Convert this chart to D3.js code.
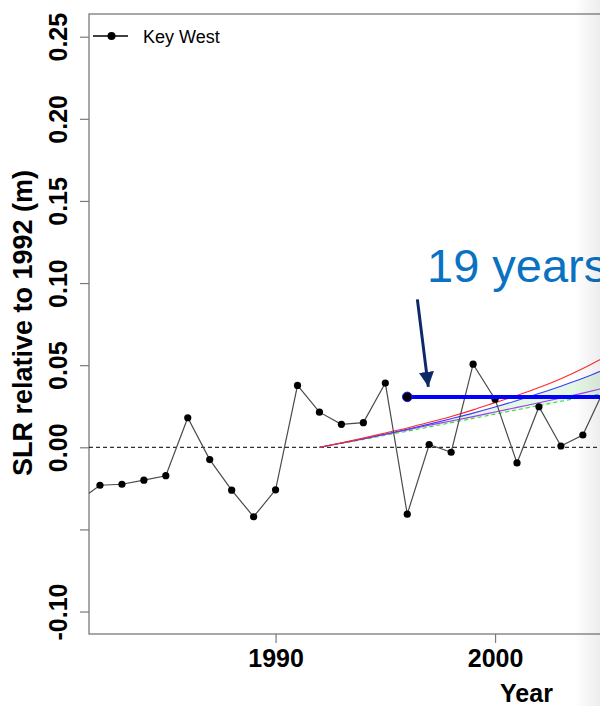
<!DOCTYPE html>
<html>
<head>
<meta charset="utf-8">
<script src="https://cdn.jsdelivr.net/npm/d3@7"></script>
<style>
  body { margin: 0; background: #fff; }
  svg { display: block; font-family: "Liberation Sans", Arial, sans-serif; }
</style>
</head>
<body>
<script>
// Key West annual mean sea level, relative to 1992 (m)
var years = [1981, 1982, 1983, 1984, 1985, 1986, 1987, 1988, 1989, 1990,
             1991, 1992, 1993, 1994, 1995, 1996, 1997, 1998, 1999, 2000,
             2001, 2002, 2003, 2004, 2005];
var keyWest = [-0.033, -0.0231, -0.0225, -0.0200, -0.0173, 0.0180, -0.0075, -0.0261, -0.0423, -0.0259,
               0.0377, 0.0214, 0.0140, 0.0150, 0.0391, -0.0407, 0.0017, -0.0030, 0.0506, 0.0293,
               -0.0095, 0.0247, 0.0008, 0.0075, 0.036];

// projection curves starting in 1992
var curveYears = [1992, 1993, 1994, 1995, 1996, 1997, 1998, 1999, 2000, 2001, 2002, 2003, 2004, 2005];
var redCurve    = [0, 0.0027, 0.0056, 0.0087, 0.0118, 0.0152, 0.0188, 0.0228, 0.0272, 0.0316, 0.0364, 0.0418, 0.0480, 0.0550];
var blueCurve   = [0, 0.0026, 0.0053, 0.0081, 0.0110, 0.0141, 0.0174, 0.0208, 0.0245, 0.0285, 0.0327, 0.0372, 0.0420, 0.0475];
var purpleCurve = [0, 0.0025, 0.0051, 0.0078, 0.0106, 0.0134, 0.0160, 0.0187, 0.0215, 0.0243, 0.0271, 0.0300, 0.0330, 0.0362];
var greenCurve  = [0, 0.0024, 0.0048, 0.0073, 0.0098, 0.0124, 0.0150, 0.0176, 0.0202, 0.0228, 0.0254, 0.0280, 0.0306, 0.0330];

// horizontal "19 years" marker
var markerYears = [1996, 2015];
var markerLevel = 0.0307;

var yTicks = [-0.10, -0.05, 0.00, 0.05, 0.10, 0.15, 0.20, 0.25];
var yTickLabels = ["-0.10", "", "0.00", "0.05", "0.10", "0.15", "0.20", "0.25"];
var xTicks = [1990, 2000];

var svgWidth = 600;
var svgHeight = 706;

var plot = { left: 89, top: 14, bottom: 634, right: 760 };

var svg = d3.select("body")
  .append("svg")
  .attr("width", svgWidth)
  .attr("height", svgHeight);

var defs = svg.append("defs");

var xScale = d3.scaleLinear()
  .domain([1981.5, 2005])
  .range([plot.left, 604.8]);

var yScale = d3.scaleLinear()
  .domain([0, 0.25])
  .range([447.3, 36.7]);

defs.append("clipPath")
  .attr("id", "plotClip")
  .append("rect")
  .attr("x", plot.left)
  .attr("y", plot.top)
  .attr("width", plot.right - plot.left)
  .attr("height", plot.bottom - plot.top);

// frame
svg.append("rect")
  .attr("x", plot.left)
  .attr("y", plot.top)
  .attr("width", plot.right - plot.left)
  .attr("height", plot.bottom - plot.top)
  .attr("fill", "none")
  .attr("stroke", "#7a7a7a")
  .attr("stroke-width", 1.3);

// y axis
var yAxis = d3.axisLeft(yScale)
  .tickValues(yTicks)
  .tickSize(9)
  .tickFormat((d, i) => yTickLabels[i]);

var yAxisG = svg.append("g")
  .attr("transform", `translate(${plot.left}, 0)`)
  .call(yAxis);
yAxisG.select(".domain").remove();
yAxisG.selectAll(".tick line").attr("stroke", "#7a7a7a").attr("stroke-width", 1.2);
yAxisG.selectAll(".tick text")
  .attr("transform", "rotate(-90)")
  .attr("x", 0)
  .attr("y", -22.5)
  .attr("dy", 0)
  .attr("text-anchor", "middle")
  .attr("font-size", 25)
  .attr("font-weight", "bold")
  .attr("fill", "#000");

// x axis
var xAxis = d3.axisBottom(xScale)
  .tickValues(xTicks)
  .tickSize(9)
  .tickFormat(d3.format("d"));

var xAxisG = svg.append("g")
  .attr("transform", `translate(0, ${plot.bottom})`)
  .call(xAxis);
xAxisG.select(".domain").remove();
xAxisG.selectAll(".tick line").attr("stroke", "#7a7a7a").attr("stroke-width", 1.2);
xAxisG.selectAll(".tick text")
  .attr("y", 32.7)
  .attr("dy", 0)
  .attr("font-size", 25)
  .attr("font-weight", "bold")
  .attr("fill", "#000");

// axis titles
svg.append("text")
  .attr("transform", "translate(32, 323) rotate(-90)")
  .attr("text-anchor", "middle")
  .attr("font-size", 27)
  .attr("font-weight", "bold")
  .text("SLR relative to 1992 (m)");

svg.append("text")
  .attr("x", 526.5)
  .attr("y", 702)
  .attr("text-anchor", "middle")
  .attr("font-size", 25)
  .attr("font-weight", "bold")
  .text("Year");

var chartGroup = svg.append("g").attr("clip-path", "url(#plotClip)");

// zero reference
chartGroup.append("line")
  .attr("x1", plot.left)
  .attr("x2", plot.right)
  .attr("y1", yScale(0))
  .attr("y2", yScale(0))
  .attr("stroke", "#000")
  .attr("stroke-width", 1)
  .attr("stroke-dasharray", "4,3");

// shaded band between blue and green projections
var band = d3.area()
  .x((d, i) => xScale(curveYears[i]))
  .y0((d, i) => yScale(greenCurve[i]))
  .y1(d => yScale(d))
  .curve(d3.curveMonotoneX);

chartGroup.append("path")
  .datum(blueCurve)
  .attr("d", band)
  .attr("fill", "#e4f6e4");

var curveLine = d3.line()
  .x((d, i) => xScale(curveYears[i]))
  .y(d => yScale(d))
  .curve(d3.curveMonotoneX);

var curves = [
  { values: greenCurve, color: "#33dd33", dash: "4,3" },
  { values: purpleCurve, color: "#a03cf0", dash: null },
  { values: blueCurve, color: "#3a3aff", dash: null },
  { values: redCurve, color: "#ff2a2a", dash: null }
];

curves.forEach(function(c) {
  chartGroup.append("path")
    .datum(c.values)
    .attr("d", curveLine)
    .attr("fill", "none")
    .attr("stroke", c.color)
    .attr("stroke-width", 1.1)
    .attr("stroke-dasharray", c.dash);
});

// Key West series
var seriesLine = d3.line()
  .x((d, i) => xScale(years[i]))
  .y(d => yScale(d));

chartGroup.append("path")
  .datum(keyWest)
  .attr("d", seriesLine)
  .attr("fill", "none")
  .attr("stroke", "#4a4a4a")
  .attr("stroke-width", 1.2);

chartGroup.selectAll(".pt")
  .data(keyWest)
  .enter()
  .append("circle")
  .classed("pt", true)
  .attr("cx", (d, i) => xScale(years[i]))
  .attr("cy", d => yScale(d))
  .attr("r", 3.6)
  .attr("fill", "#000");

// 19 year marker
chartGroup.append("line")
  .attr("x1", xScale(markerYears[0]))
  .attr("x2", xScale(markerYears[1]))
  .attr("y1", yScale(markerLevel))
  .attr("y2", yScale(markerLevel))
  .attr("stroke", "#0000ff")
  .attr("stroke-width", 4);

chartGroup.append("circle")
  .attr("cx", xScale(markerYears[0]))
  .attr("cy", yScale(markerLevel))
  .attr("r", 4.8)
  .attr("fill", "#000")
  .attr("stroke", "#1a1aff")
  .attr("stroke-width", 1);

// arrow + label
defs.append("marker")
  .attr("id", "arrowHead")
  .attr("viewBox", "0 0 10 10")
  .attr("refX", 10)
  .attr("refY", 5)
  .attr("markerWidth", 5)
  .attr("markerHeight", 5)
  .attr("markerUnits", "strokeWidth")
  .attr("orient", "auto")
  .append("path")
  .attr("d", "M0,0 L10,5 L0,10 Z")
  .attr("fill", "#0d2a66");

svg.append("line")
  .attr("x1", xScale(1996.46))
  .attr("y1", yScale(0.0901))
  .attr("x2", xScale(1996.96))
  .attr("y2", yScale(0.0368))
  .attr("stroke", "#0d2a66")
  .attr("stroke-width", 3)
  .attr("marker-end", "url(#arrowHead)");

svg.append("text")
  .attr("x", xScale(1996.9))
  .attr("y", yScale(0.1006))
  .attr("font-size", 47)
  .attr("fill", "#0a72c2")
  .text("19 years");

// legend
var legend = svg.append("g").attr("transform", "translate(93, 36)");
legend.append("line")
  .attr("x1", 0).attr("x2", 35)
  .attr("stroke", "#000").attr("stroke-width", 1.5);
legend.append("circle")
  .attr("cx", 18.5).attr("r", 4).attr("fill", "#000");
legend.append("text")
  .attr("x", 50).attr("y", 7)
  .attr("font-size", 18)
  .text("Key West");

// slide shadow at right edge
var grad = defs.append("linearGradient")
  .attr("id", "edgeShade")
  .attr("x1", "0").attr("x2", "1").attr("y1", "0").attr("y2", "0");
grad.append("stop").attr("offset", "0").attr("stop-color", "#000").attr("stop-opacity", 0);
grad.append("stop").attr("offset", "1").attr("stop-color", "#000").attr("stop-opacity", 0.07);

svg.append("rect")
  .attr("x", 574)
  .attr("y", 0)
  .attr("width", 26)
  .attr("height", svgHeight)
  .attr("fill", "url(#edgeShade)");
</script>
</body>
</html>
